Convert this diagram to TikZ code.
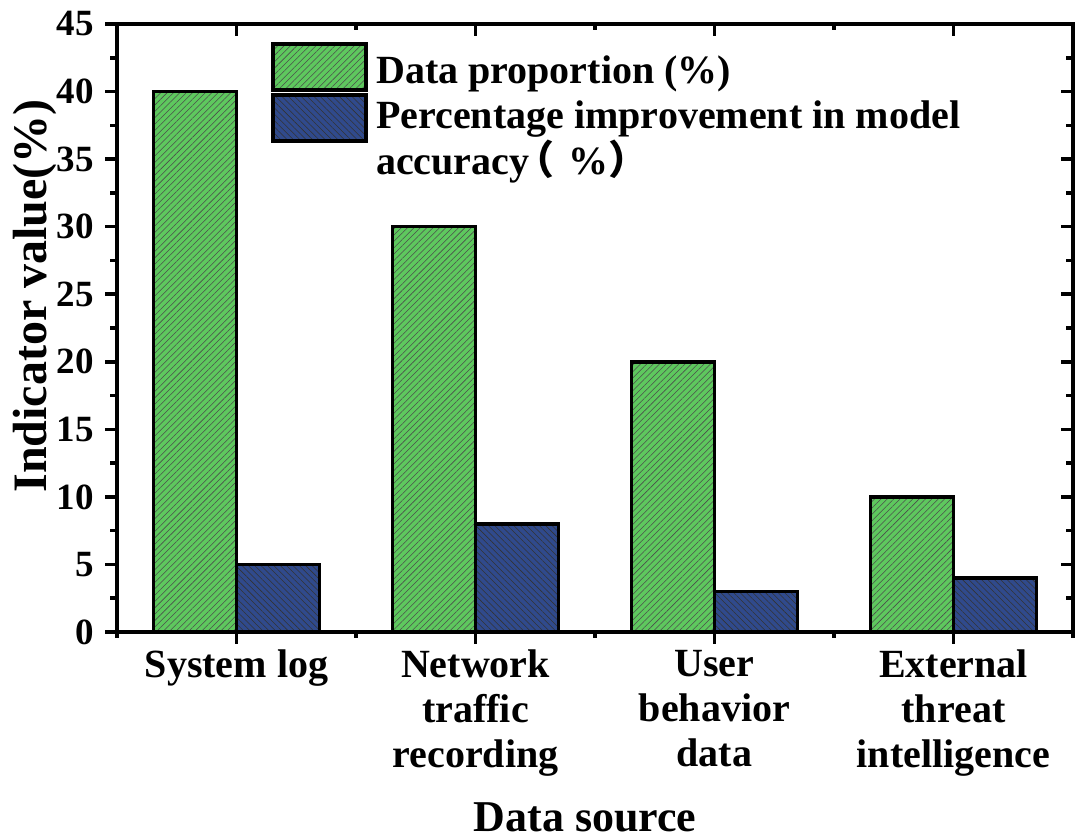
\documentclass[tikz,border=0pt]{standalone}
\usepackage{fontspec}
\setmainfont{Liberation Serif}
\newfontfamily\cjk{Noto Sans CJK SC}
\usetikzlibrary{patterns.meta,positioning}
\definecolor{barGreen}{RGB}{94,200,94}
\definecolor{barBlue}{RGB}{48,74,140}

\tikzset{
  greenbar/.style={draw=black, line width=3.5pt, preaction={fill=barGreen},
    pattern={Lines[angle=45, distance=4.5pt, line width=0.55pt]}, pattern color=black!70},
  bluebar/.style={draw=black, line width=3.5pt, preaction={fill=barBlue},
    pattern={Lines[angle=-45, distance=4.5pt, line width=0.55pt]}, pattern color=black!80},
  ticklabel/.style={font=\fontsize{37}{40}\selectfont\bfseries, anchor=east, inner sep=0pt},
  catlabel/.style={font=\fontsize{40}{45}\selectfont\bfseries, align=center, anchor=north, inner sep=0pt},
  legtext/.style={font=\fontsize{40}{46}\selectfont\bfseries, align=left, anchor=north west, inner sep=0pt},
}

\begin{document}
\begin{tikzpicture}[x=1pt, y=1pt]
  \useasboundingbox (0,0) rectangle (1081,839);

  \begin{scope}[shift={(117,207)}, x=239pt, y=13.511pt]
    % bars
    \foreach \i/\a/\b in {1/40/5, 2/30/8, 3/20/3, 4/10/4} {
      \draw[greenbar] (\i-0.847,0) rectangle (\i-0.5,\a);
      \draw[bluebar]  (\i-0.5,0) rectangle (\i-0.153,\b);
    }

    % frame and ticks
    \draw[line width=4pt] (0,0) rectangle (4,45);
    \foreach \v in {0,5,...,45} {
      \draw[line width=3.5pt] (0,\v) -- ++(-12pt,0);
      \draw[line width=3.5pt] (4,\v) -- ++(-12pt,0);
      \node[ticklabel] (ytick\v) at ([xshift=-23pt]0,\v) {\v};
    }
    \foreach \v in {2.5,7.5,...,42.5} {
      \draw[line width=3.5pt] (0,\v) -- ++(-7pt,0);
      \draw[line width=3.5pt] (4,\v) -- ++(-7pt,0);
    }
    \foreach \c in {0.5,1.5,2.5,3.5} {
      \draw[line width=3.5pt] (\c,0) -- ++(0,-12pt);
      \draw[line width=3.5pt] (\c,45) -- ++(0,-12pt);
    }
    \foreach \c in {0,1,...,4} {
      \draw[line width=3.5pt] (\c,0) -- ++(0,-6pt);
      \draw[line width=3.5pt] (\c,45) -- ++(0,-6pt);
    }

    % category labels
    \foreach \i/\txt in {1/System log, 2/{Network\\traffic\\recording},
                         3/{User\\behavior\\data}, 4/{External\\threat\\intelligence}}
      \node[catlabel] (cat\i) at (\i-0.5,-1.33) {\txt};
  \end{scope}

  % axis titles
  \node[rotate=90, anchor=base, inner sep=0pt, font=\fontsize{48}{50}\selectfont\bfseries]
    (ytitle) at (46,543) {Indicator value(\%)};
  \node[anchor=base, inner sep=0pt, font=\fontsize{44}{46}\selectfont\bfseries]
    (xtitle) at (585,8) {Data source};

  % legend
  \draw[greenbar] (273,749) rectangle (366,795);
  \draw[bluebar]  (273,698) rectangle (366,744);
  \node[legtext] (legdata) at (376,783) {Data proportion (\%)};
  \node[legtext] (legacc) at (376,738) {Percentage improvement in model\\accuracy{\cjk\kern-15pt （}\hspace{14pt}\%{\cjk ）}};
\end{tikzpicture}
\end{document}
